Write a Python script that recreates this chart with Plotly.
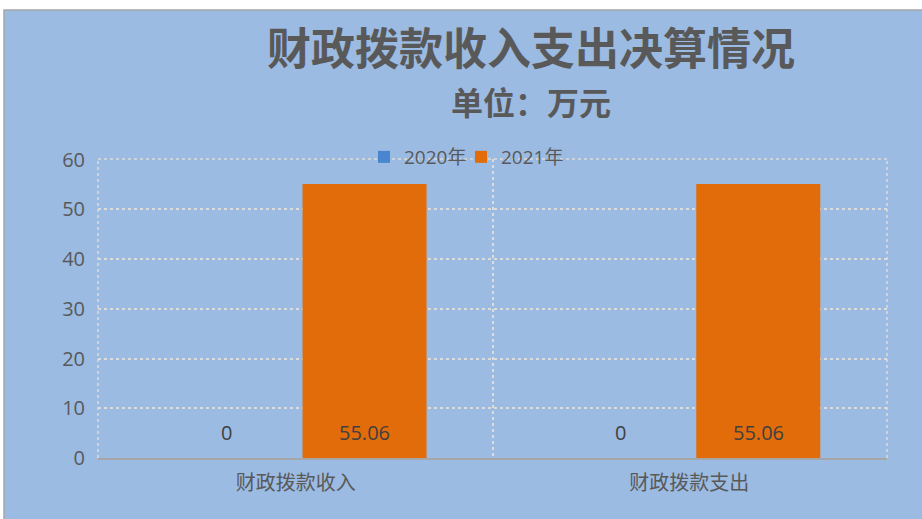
import plotly.graph_objects as go

categories = ["财政拨款收入", "财政拨款支出"]
series_names = ["2020年", "2021年"]
values_2020 = [0, 0]
values_2021 = [55.06, 55.06]
y_ticks = [0, 10, 20, 30, 40, 50, 60]

title_text = "财政拨款收入支出决算情况"
subtitle_text = "单位：万元"

W, H = 922, 519
ML, MR, MT, MB = 98, 35, 159, 61
BARGAP = 0.30
GROUPGAP = 0.10
colors = ["#4A86CF", "#E36C0A"]
text_gray = "#595959"
grid_col = "#DCDCDC"
bg_blue = "#9BBBE3"
font_fam = "Open Sans, Noto Sans CJK SC, sans-serif"

plot_w = W - ML - MR
plot_h = H - MT - MB
def py(p):
    return (H - MB - p) / plot_h
def px(p):
    return (p - ML) / plot_w

fig = go.Figure()
series = [values_2020, values_2021]
legend_ids = ["legend", "legend2"]
for name, vals, col, lg in zip(series_names, series, colors, legend_ids):
    fig.add_trace(go.Bar(x=categories, y=vals, name=name, legend=lg,
                         marker=dict(color=col, line=dict(width=0))))

# data labels near bar base
n_cat = len(categories)
cat_w = plot_w / (n_cat + 0.004)
n = len(series)
slot_w = cat_w * (1 - BARGAP) / n
for si, vals in enumerate(series):
    shift = (si - (n - 1) / 2) * slot_w
    for c, v in zip(categories, vals):
        fig.add_annotation(x=c, y=0, xref="x", yref="y", text=f"{v:g}", showarrow=False,
                           xshift=shift, yshift=26, font=dict(size=20, color="#404040", family=font_fam))

fig.add_annotation(x=px(531), y=py(46), xref="paper", yref="paper", text=f"<b>{title_text}</b>",
                   showarrow=False, xanchor="center", yanchor="middle",
                   font=dict(size=44, color=text_gray, family="Noto Sans CJK SC"))
fig.add_annotation(x=px(531), y=py(101), xref="paper", yref="paper", text=f"<b>{subtitle_text}</b>",
                   showarrow=False, xanchor="center", yanchor="middle",
                   font=dict(size=32, color=text_gray, family="Noto Sans CJK SC"))

# chart border/background
fig.add_shape(type="rect", xref="paper", yref="paper", layer="below",
              x0=px(4), x1=px(930), y0=py(530), y1=py(10),
              fillcolor=bg_blue, line=dict(color="#A6A6A6", width=1.5))
# frame gridlines at the plot-area edges (left, right, top)
for x0, y0, x1, y1 in [(0, 0, 0, 1), (1, 0, 1, 1), (0, 1, 1, 1)]:
    fig.add_shape(type="line", xref="paper", yref="paper", layer="below",
                  x0=x0, y0=y0, x1=x1, y1=y1, line=dict(color=grid_col, width=1.5, dash="dot"))

leg_common = dict(orientation="h", xanchor="left", yanchor="middle",
                  font=dict(size=19, color=text_gray, family=font_fam),
                  bgcolor="rgba(0,0,0,0)", itemwidth=30)

fig.update_layout(
    width=W, height=H,
    margin=dict(l=ML, r=MR, t=MT, b=MB, autoexpand=False),
    paper_bgcolor="white",
    plot_bgcolor="rgba(0,0,0,0)",
    barmode="group",
    bargap=BARGAP,
    bargroupgap=GROUPGAP,
    showlegend=True,
    legend=dict(x=px(364), y=py(157), **leg_common),
    legend2=dict(x=px(461), y=py(157), **leg_common),
    xaxis=dict(tickson="boundaries", range=[-0.502, n_cat - 0.498], showgrid=True, griddash="dot",
               gridcolor=grid_col, gridwidth=1.5,
               showline=True, linecolor="#A6A6A6", linewidth=2, ticks="", ticklabelstandoff=6,
               tickfont=dict(size=20, color=text_gray, family=font_fam)),
    yaxis=dict(range=[0, 60.1], tickvals=y_ticks, showgrid=True, griddash="dot", gridcolor=grid_col,
               gridwidth=1.5, zeroline=False, showline=False, ticks="", ticklabelstandoff=12,
               tickfont=dict(size=20, color=text_gray, family=font_fam)),
)

fig.write_html("out.html", config={"displayModeBar": False},
               post_script="document.body.style.margin='0';document.body.style.overflow='hidden';")
